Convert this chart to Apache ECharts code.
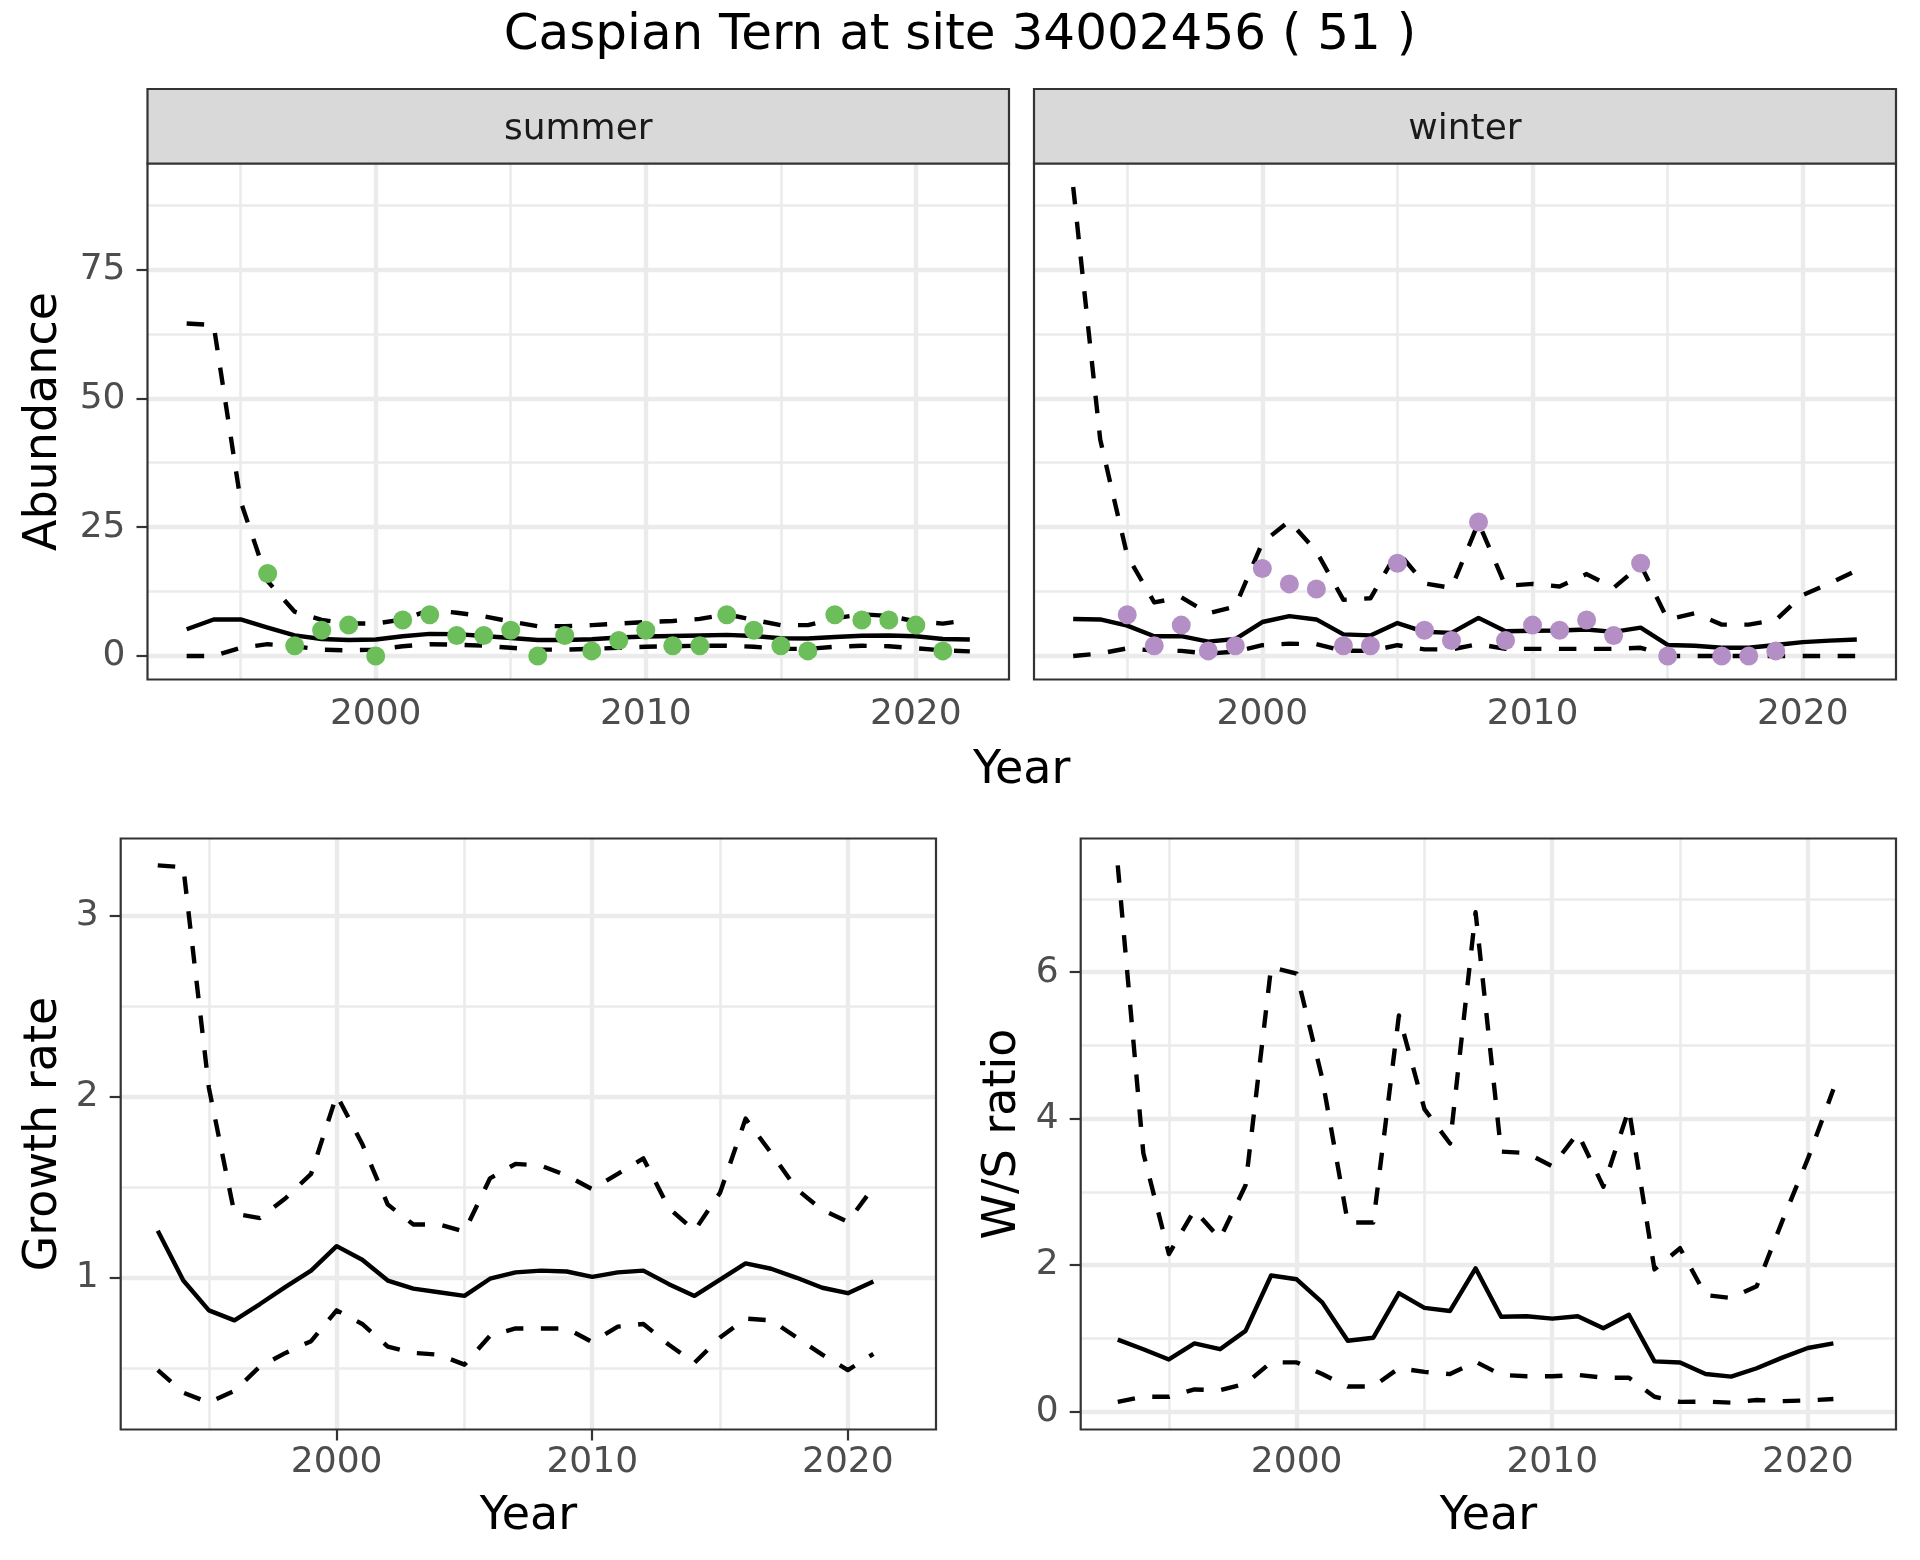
<!DOCTYPE html>
<html>
<head>
<meta charset="utf-8">
<script src="https://cdn.jsdelivr.net/npm/echarts@6/dist/echarts.min.js"></script>
<style>
html,body{margin:0;padding:0;background:#ffffff;}
#chart{width:1920px;height:1560px;}
</style>
</head>
<body>
<div id="chart"></div>
<script>
// ---------------- DATA ----------------
const abundanceYears = [1993,1994,1995,1996,1997,1998,1999,2000,2001,2002,2003,2004,2005,2006,2007,2008,2009,2010,2011,2012,2013,2014,2015,2016,2017,2018,2019,2020,2021,2022];

const summerMean  = [5.2,7.1,7.1,5.5,4.0,3.3,3.1,3.2,3.85,4.3,4.25,3.9,3.5,3.1,3.1,3.26,3.6,3.8,3.9,4.0,4.1,3.9,3.45,3.4,3.7,3.95,4.0,3.85,3.3,3.2];
const summerUpper = [64.5,64.2,30,14.5,8.6,7.0,6.3,6.3,7.1,8.9,8.4,7.7,6.7,5.8,5.8,6.0,6.3,6.6,6.8,7.2,8.1,7.0,6.0,6.0,7.3,8.1,7.8,6.7,6.3,7.0];
const summerLower = [0,0,1.6,2.3,1.9,1.25,1.1,1.25,1.9,2.3,2.2,2.0,1.6,1.25,1.25,1.4,1.6,1.8,1.9,2.0,2.0,1.8,1.4,1.4,1.8,2.0,1.9,1.5,1.1,0.9];
const summerPointYears = [1996,1997,1998,1999,2000,2001,2002,2003,2004,2005,2006,2007,2008,2009,2010,2011,2012,2013,2014,2015,2016,2017,2018,2019,2020,2021];
const summerPoints     = [16,2,5,6,0,7,8,4,4,5,0,4,1,3,5,2,2,8,5,2,1,8,7,7,6,1];

const winterMean  = [7.2,7.1,5.9,3.85,3.85,2.8,3.3,6.6,7.75,7.1,4.2,4.0,6.4,4.7,4.5,7.4,4.8,4.9,4.95,5.15,4.7,5.5,2.15,2.0,1.6,1.6,2.15,2.7,3.0,3.2];
const winterUpper = [91,42,19.5,10.4,11.4,8.3,9.6,22,26.2,20.3,10.9,11.2,20.3,14.1,13.2,25.9,13.6,14.0,13.5,15.9,13.2,17.7,7.1,8.3,6.1,6.1,7.0,11.85,14.1,16.6];
const winterLower = [0,0.5,1.5,1.05,1.0,0.47,0.85,2.1,2.4,2.3,1.05,1.0,2.1,1.3,1.3,2.3,1.4,1.4,1.4,1.4,1.4,1.6,0,0,0,0,0,0,0,0];
const winterPointYears = [1995,1996,1997,1998,1999,2000,2001,2002,2003,2004,2005,2006,2007,2008,2009,2010,2011,2012,2013,2014,2015,2017,2018,2019];
const winterPoints     = [8,2,6,1,2,17,14,13,2,2,18,5,3,26,3,6,5,7,4,18,0,0,0,1];

const rateYears = [1993,1994,1995,1996,1997,1998,1999,2000,2001,2002,2003,2004,2005,2006,2007,2008,2009,2010,2011,2012,2013,2014,2015,2016,2017,2018,2019,2020,2021];

const growthMean  = [1.26,0.985,0.82,0.765,0.855,0.95,1.04,1.175,1.10,0.985,0.94,0.92,0.90,0.995,1.03,1.04,1.035,1.005,1.03,1.04,0.965,0.90,0.99,1.08,1.05,1.0,0.945,0.915,0.98];
const growthUpper = [3.28,3.27,2.05,1.355,1.33,1.44,1.575,2.01,1.74,1.405,1.295,1.295,1.255,1.55,1.63,1.62,1.565,1.49,1.575,1.66,1.385,1.26,1.47,1.88,1.69,1.49,1.375,1.31,1.50];
const growthLower = [0.49,0.365,0.31,0.375,0.51,0.585,0.65,0.82,0.745,0.62,0.585,0.575,0.52,0.68,0.72,0.72,0.72,0.645,0.73,0.745,0.63,0.53,0.67,0.775,0.765,0.67,0.575,0.49,0.58];

const wsMean  = [0.98,0.85,0.71,0.93,0.85,1.10,1.857,1.805,1.49,0.965,1.007,1.617,1.414,1.372,1.955,1.294,1.30,1.267,1.30,1.137,1.32,0.684,0.668,0.511,0.475,0.59,0.735,0.866,0.929];
const wsUpper = [7.46,3.53,2.15,2.75,2.36,3.09,6.07,5.98,4.55,2.58,2.58,5.41,4.13,3.66,6.82,3.55,3.53,3.35,3.80,3.07,4.13,1.94,2.23,1.59,1.55,1.71,2.6,3.45,4.4];
const wsLower = [0.13,0.20,0.20,0.30,0.29,0.38,0.67,0.67,0.51,0.34,0.34,0.59,0.54,0.51,0.68,0.50,0.48,0.48,0.50,0.46,0.46,0.20,0.13,0.135,0.12,0.156,0.14,0.15,0.17];

const xTickValues = [2000, 2010, 2020];
const xMinorValues = [1995, 2005, 2015];
const abundanceTicks = [0, 25, 50, 75];
const abundanceMinor = [12.5, 37.5, 62.5, 87.5];
const growthTicks = [1, 2, 3];
const growthMinor = [0.5, 1.5, 2.5];
const wsTicks = [0, 2, 4, 6];
const wsMinor = [1, 3, 5, 7];

const titleText = 'Caspian Tern at site 34002456 ( 51 )';
const facetLabels = ['summer', 'winter'];

// ---------------- STYLE / LAYOUT ----------------
const FONT = 'DejaVu Sans';
const GREEN = '#6BBE5A';
const PURPLE = '#B48FC6';
const GRID_COL = '#EBEBEB';
const DARK = '#333333';
const TICK_TXT = '#4D4D4D';
const LINE_W = 4.4;
const DASH = [17.5, 17.5];

const panels = [
  {left:147.5, top:163.5, width:861.5, height:516},   // summer
  {left:1034,  top:163.5, width:862,   height:516},   // winter
  {left:120.7, top:838.5, width:815.3, height:591},   // growth
  {left:1080.7,top:838.5, width:815.3, height:591}    // W/S
];
const stripTop = 89, stripH = 74.5;

function pairs(xs, ys){ return xs.map((x,i)=>[x, ys[i]]); }
function expand(arrs){
  let mn = Infinity, mx = -Infinity;
  arrs.forEach(a=>a.forEach(v=>{ if(v<mn) mn=v; if(v>mx) mx=v; }));
  const r = mx - mn;
  return [mn - 0.05*r, mx + 0.05*r];
}
const xr = expand([abundanceYears]);
const abR = expand([summerMean, summerUpper, summerLower, summerPoints, winterMean, winterUpper, winterLower, winterPoints]);
const grR = expand([growthMean, growthUpper, growthLower]);
const wsR = expand([wsMean, wsUpper, wsLower]);

function inRange(vals, r){ return vals.filter(v=>v>=r[0] && v<=r[1]); }

function xAxisCfg(gi, margin){
  return {
    type:'value', gridIndex:gi, min:xr[0], max:xr[1],
    axisLine:{show:false}, splitLine:{show:false}, minorTick:{show:false},
    axisTick:{show:true, customValues:xTickValues, length:11, lineStyle:{color:DARK, width:2.2}},
    axisLabel:{show:true, customValues:xTickValues, margin:margin, color:TICK_TXT, fontSize:36, fontFamily:FONT,
               formatter:(v)=>String(v)}
  };
}
function yAxisCfg(gi, r, ticks, showLabels){
  return {
    type:'value', gridIndex:gi, min:r[0], max:r[1],
    axisLine:{show:false}, splitLine:{show:false}, minorTick:{show:false},
    axisTick:{show:showLabels, customValues:ticks, length:11, lineStyle:{color:DARK, width:2.2}},
    axisLabel:{show:showLabels, customValues:ticks, margin:22, color:TICK_TXT, fontSize:36, fontFamily:FONT,
               formatter:(v)=>String(v)}
  };
}
function gridLines(gi, r, yMajor, yMinor){
  const d = [];
  inRange(xMinorValues, xr).forEach(v=>d.push({xAxis:v, lineStyle:{width:2.6}}));
  inRange(yMinor, r).forEach(v=>d.push({yAxis:v, lineStyle:{width:2.6}}));
  inRange(xTickValues, xr).forEach(v=>d.push({xAxis:v, lineStyle:{width:4.4}}));
  inRange(yMajor, r).forEach(v=>d.push({yAxis:v, lineStyle:{width:4.4}}));
  return {
    type:'line', xAxisIndex:gi, yAxisIndex:gi, z:1, silent:true,
    data:[[xr[0], r[0]]], symbol:'none', showSymbol:false,
    lineStyle:{opacity:0},
    markLine:{silent:true, z:1, symbol:['none','none'], label:{show:false}, animation:false,
              emphasis:{disabled:true},
              lineStyle:{color:GRID_COL, type:'solid'}, data:d}
  };
}
function lineSeries(gi, xs, ys, dashed){
  return {
    type:'line', xAxisIndex:gi, yAxisIndex:gi, z:2, silent:true,
    data:pairs(xs, ys), symbol:'none', showSymbol:false,
    lineStyle:{color:'#000000', width:LINE_W, type: dashed ? DASH : 'solid', cap:'butt', join:'round'}
  };
}
function pointSeries(gi, xs, ys, color){
  return {
    type:'scatter', xAxisIndex:gi, yAxisIndex:gi, z:3, silent:true,
    data:pairs(xs, ys), symbol:'circle', symbolSize:19,
    itemStyle:{color:color, opacity:1}
  };
}

function txt(x, y, text, size, color, rot){
  return {type:'text', x:x, y:y, rotation:rot||0, z:20, silent:true,
          style:{text:text, fontSize:size, fontFamily:FONT, fill:color, align:'center', verticalAlign:'middle'}};
}

const chart = echarts.init(document.getElementById('chart'), null, {renderer:'canvas'});

const option = {
  backgroundColor:'#ffffff',
  animation:false,
  grid: panels.map(p=>({left:p.left, top:p.top, width:p.width, height:p.height,
    show:true, z:10, backgroundColor:'rgba(0,0,0,0)', borderColor:DARK, borderWidth:2.2,
    containLabel:false, outerBoundsMode:'none'})),
  xAxis: [xAxisCfg(0, 17), xAxisCfg(1, 17), xAxisCfg(2, 15), xAxisCfg(3, 15)],
  yAxis: [
    yAxisCfg(0, abR, abundanceTicks, true),
    yAxisCfg(1, abR, abundanceTicks, false),
    yAxisCfg(2, grR, growthTicks, true),
    yAxisCfg(3, wsR, wsTicks, true)
  ],
  series: [
    gridLines(0, abR, abundanceTicks, abundanceMinor),
    gridLines(1, abR, abundanceTicks, abundanceMinor),
    gridLines(2, grR, growthTicks, growthMinor),
    gridLines(3, wsR, wsTicks, wsMinor),

    lineSeries(0, abundanceYears, summerUpper, true),
    lineSeries(0, abundanceYears, summerLower, true),
    lineSeries(0, abundanceYears, summerMean, false),
    pointSeries(0, summerPointYears, summerPoints, GREEN),

    lineSeries(1, abundanceYears, winterUpper, true),
    lineSeries(1, abundanceYears, winterLower, true),
    lineSeries(1, abundanceYears, winterMean, false),
    pointSeries(1, winterPointYears, winterPoints, PURPLE),

    lineSeries(2, rateYears, growthUpper, true),
    lineSeries(2, rateYears, growthLower, true),
    lineSeries(2, rateYears, growthMean, false),

    lineSeries(3, rateYears, wsUpper, true),
    lineSeries(3, rateYears, wsLower, true),
    lineSeries(3, rateYears, wsMean, false)
  ],
  graphic: [
    {type:'rect', z:15, silent:true,
     shape:{x:panels[0].left, y:stripTop, width:panels[0].width, height:stripH},
     style:{fill:'#D9D9D9', stroke:DARK, lineWidth:2.2}},
    {type:'rect', z:15, silent:true,
     shape:{x:panels[1].left, y:stripTop, width:panels[1].width, height:stripH},
     style:{fill:'#D9D9D9', stroke:DARK, lineWidth:2.2}},
    txt(panels[0].left + panels[0].width/2, stripTop + stripH/2 + 3, facetLabels[0], 36, '#1A1A1A'),
    txt(panels[1].left + panels[1].width/2, stripTop + stripH/2 + 3, facetLabels[1], 36, '#1A1A1A'),
    txt(960, 36.5, titleText, 50, '#000000'),
    txt(44, panels[0].top + panels[0].height/2, 'Abundance', 46, '#000000', Math.PI/2),
    txt((panels[0].left + panels[1].left + panels[1].width)/2, 771, 'Year', 46, '#000000'),
    txt(44, panels[2].top + panels[2].height/2, 'Growth rate', 46, '#000000', Math.PI/2),
    txt(1003, panels[3].top + panels[3].height/2, 'W/S ratio', 46, '#000000', Math.PI/2),
    txt(panels[2].left + panels[2].width/2, 1517, 'Year', 46, '#000000'),
    txt(panels[3].left + panels[3].width/2, 1517, 'Year', 46, '#000000')
  ]
};
chart.setOption(option);
</script>
</body>
</html>
